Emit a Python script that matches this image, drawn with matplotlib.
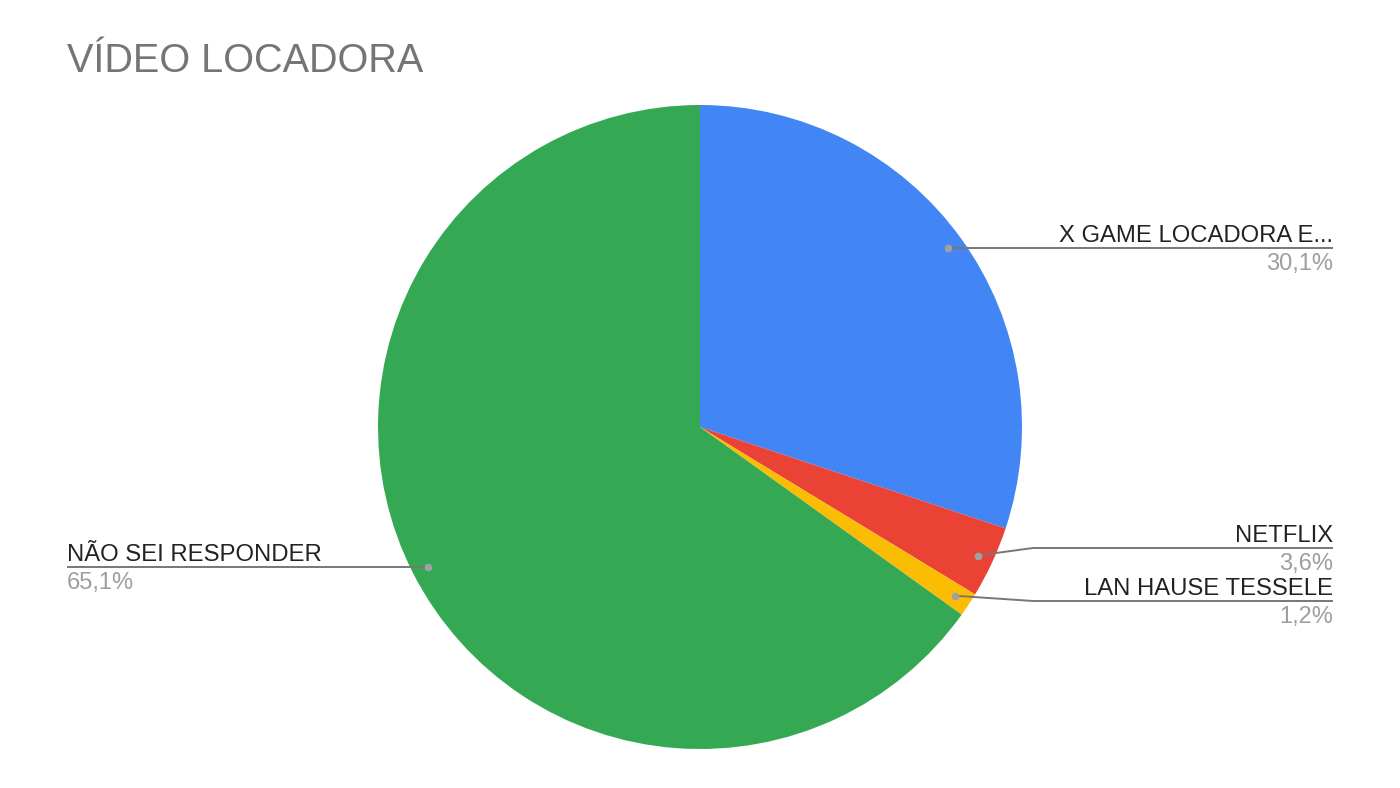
import matplotlib
matplotlib.use("Agg")
import matplotlib.pyplot as plt
import numpy as np

title = "VÍDEO LOCADORA"
categories = ["X GAME LOCADORA E...", "NETFLIX", "LAN HAUSE TESSELE", "NÃO SEI RESPONDER"]
values = [30.1, 3.6, 1.2, 65.1]
pct_labels = ["30,1%", "3,6%", "1,2%", "65,1%"]
colors = ["#4285F4", "#EA4335", "#FBBC04", "#34A853"]

plt.rcParams['font.family'] = ['Liberation Sans', 'DejaVu Sans']

W, H = 1400, 788
fig = plt.figure(figsize=(W / 100, H / 100), dpi=100)
fig.patch.set_facecolor("white")

cx, cy, R = 700, 427, 322
ax = fig.add_axes([(cx - R) / W, (H - cy - R) / H, 2 * R / W, 2 * R / H])
wedges, _ = ax.pie(values, colors=colors, startangle=90, counterclock=False,
                   radius=1, wedgeprops=dict(linewidth=0))
ax.set_xlim(-1, 1)
ax.set_ylim(-1, 1)
ax.set_aspect("equal")
ax.axis("off")

ov = fig.add_axes([0, 0, 1, 1], facecolor="none")
ov.set_xlim(0, W)
ov.set_ylim(H, 0)
ov.axis("off")

ov.text(67, 72, title, fontsize=28.5, color="#757575", ha="left", va="baseline")

# layout of labels: side, line y (None = same as dot), knee x
layout = [
    ("right", None, None),
    ("right", 548, 1033),
    ("right", 601, 1033),
    ("left", None, None),
]
line_color = "#777777"
to_ov = ov.transData.inverted()
for w, lab, pct, (side, ly, kx) in zip(wedges, categories, pct_labels, layout):
    theta = np.deg2rad((w.theta1 + w.theta2) / 2)
    px, py = to_ov.transform(ax.transData.transform((0.95 * np.cos(theta), 0.95 * np.sin(theta))))
    if ly is None:
        ly = py
    end_x = 1333 if side == "right" else 67
    xs = [px] + ([kx] if kx is not None else []) + [end_x]
    ys = [py] + ([ly] if kx is not None else []) + [ly]
    ov.plot(xs, ys, color=line_color, lw=1.4, solid_capstyle="butt")
    ov.plot([px], [py], "o", color="#a0a0a0", ms=5.5, mec="none")
    ha = "right" if side == "right" else "left"
    ov.text(end_x, ly - 6, lab, fontsize=17.2, color="#222222", ha=ha, va="baseline")
    ov.text(end_x, ly + 22, pct, fontsize=17, color="#9e9e9e", ha=ha, va="baseline")

fig.savefig("out.png", dpi=100, facecolor="white")
